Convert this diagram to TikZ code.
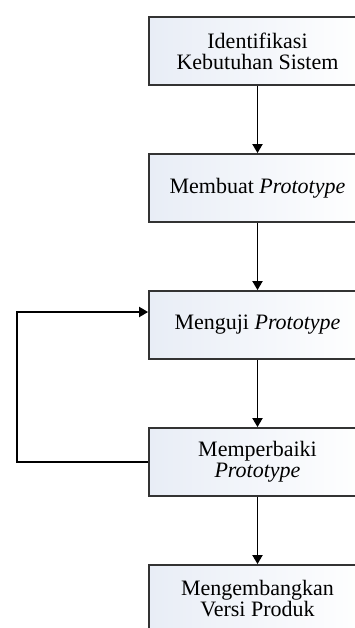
\documentclass[tikz,border=0pt]{standalone}
\usepackage{fontspec}
\setmainfont{Liberation Serif}
\usetikzlibrary{arrows.meta}
\definecolor{boxleft}{RGB}{232,237,246}
\tikzset{
  procbox/.style={draw=black!80, line width=1.8pt, rectangle, minimum width=217pt, minimum height=68pt,
    left color=boxleft, right color=white, align=center, inner sep=2pt,
    font=\fontsize{22}{21}\selectfont},
  flow/.style={draw=black, line width=1.8pt, -{Triangle[length=9pt,width=10pt]}}
}
\begin{document}
\begin{tikzpicture}[x=1pt,y=-1pt]
\useasboundingbox (0,0) rectangle (355,628);
\clip (0,0) rectangle (355,628);
\fill[white] (0,0) rectangle (355,628);
\node[procbox] (b1) at (257.5,51) {Identifikasi\\Kebutuhan Sistem};
\node[procbox] (b2) at (257.5,188) {Membuat \textit{Prototype}};
\node[procbox] (b3) at (257.5,325) {Menguji \textit{Prototype}};
\node[procbox] (b4) at (257.5,462) {Memperbaiki\\\textit{Prototype}};
\node[procbox] (b5) at (257.5,599) {Mengembangkan\\Versi Produk};
\draw[flow] (b1) -- (b2);
\draw[flow] (b2) -- (b3);
\draw[flow] (b3) -- (b4);
\draw[flow] (b4) -- (b5);
\coordinate (fb) at (17,462);
\draw[flow] (b4.west) -- (fb) |- ([yshift=13pt]b3.west);
\end{tikzpicture}
\end{document}
